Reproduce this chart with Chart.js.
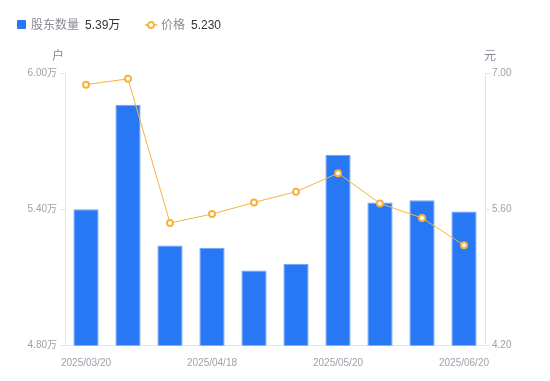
<!DOCTYPE html>
<html>
<head>
<meta charset="utf-8">
<script src="https://cdn.jsdelivr.net/npm/chart.js@4/dist/chart.umd.min.js"></script>
<style>
  html, body { margin: 0; padding: 0; background: #fff; }
  #wrap { position: relative; width: 550px; height: 381px; font-family: "Liberation Sans", "Noto Sans CJK SC", sans-serif; }
  #chart { position: absolute; left: 0; top: 0; }
  .legend { position: absolute; top: 17px; font-size: 12px; line-height: 16px; white-space: nowrap; }
  .lab { color: #8a8a96; }
  .val { color: #333; margin-left: 6px; }
  .sq { position: absolute; width: 9px; height: 9px; background: #2878F5; border-radius: 1px; }
</style>
</head>
<body>
<div id="wrap">
  <canvas id="chart" width="550" height="381"></canvas>
  <div class="legend" id="lg1" style="left:17px;"><span class="sq" style="left:0;top:3px;"></span><span style="margin-left:14px" class="lab" id="n1"></span><span class="val" id="v1"></span></div>
  <div class="legend" id="lg2" style="left:145px;"><svg width="12" height="10" style="position:absolute;left:0;top:3px"><line x1="0" y1="5" x2="12" y2="5" stroke="#F7B23B" stroke-width="1.5"/><circle cx="6" cy="5" r="3" fill="#fff" stroke="#F7B23B" stroke-width="1.8"/></svg><span style="margin-left:16px" class="lab" id="n2"></span><span class="val" id="v2"></span></div>
</div>
<script>
const categories = ["2025/03/20","2025/03/31","2025/04/10","2025/04/18","2025/04/30","2025/05/09","2025/05/20","2025/05/30","2025/06/10","2025/06/20"];
const holders = [5.40, 5.86, 5.24, 5.23, 5.13, 5.16, 5.64, 5.43, 5.44, 5.39]; // 万户
const prices = [6.88, 6.94, 5.46, 5.55, 5.67, 5.78, 5.97, 5.66, 5.51, 5.23];
const leftTicks = [4.80, 5.40, 6.00];
const rightTicks = [4.20, 5.60, 7.00];
const shownLabelIdx = [0, 3, 6, 9];
const seriesNames = ["股东数量", "价格"];
const unitLeft = "户", unitRight = "元";

document.getElementById('n1').textContent = seriesNames[0];
document.getElementById('v1').textContent = holders[holders.length-1].toFixed(2) + "万";
document.getElementById('n2').textContent = seriesNames[1];
document.getElementById('v2').textContent = prices[prices.length-1].toFixed(3);

const FONT = "'Liberation Sans', 'Noto Sans CJK SC', sans-serif";
const TICK_COLOR = "#a0a0ac";
const AXIS_COLOR = "#e3e3e8";

const unitPlugin = {
  id: 'units',
  afterDraw(chart) {
    const ctx = chart.ctx;
    ctx.save();
    ctx.font = "12px " + FONT;
    ctx.fillStyle = "#8a8a96";
    ctx.textAlign = "center";
    ctx.textBaseline = "middle";
    const a = chart.chartArea;
    ctx.fillText(unitLeft, a.left - 7, a.top - 16);
    ctx.fillText(unitRight, a.right + 5, a.top - 16);
    ctx.restore();
  }
};

new Chart(document.getElementById('chart'), {
  data: {
    labels: categories,
    datasets: [
      {
        type: 'line', label: seriesNames[1], data: prices, yAxisID: 'y1',
        borderColor: '#F7B23B', borderWidth: 1, backgroundColor: '#fff',
        pointRadius: 3, pointBorderWidth: 2, pointBorderColor: '#F7B23B', pointBackgroundColor: '#fff',
        tension: 0, order: 0
      },
      {
        type: 'bar', label: seriesNames[0], data: holders, yAxisID: 'y',
        backgroundColor: '#2878F5', borderColor: '#6ea3f8', borderWidth: 1,
        categoryPercentage: 1, barPercentage: 0.6, order: 1
      }
    ]
  },
  options: {
    responsive: false, animation: false,
    layout: { padding: { top: 73, left: 0, right: 0, bottom: 0 } },
    plugins: { legend: { display: false }, tooltip: { enabled: false } },
    scales: {
      x: {
        offset: true,
        grid: { display: false },
        border: { display: true, color: AXIS_COLOR },
        ticks: {
          autoSkip: false, maxRotation: 0, padding: 4,
          color: TICK_COLOR, font: { size: 10, family: FONT },
          callback: (v, i) => shownLabelIdx.includes(i) ? categories[i] : ''
        },
        afterFit: s => { s.height = 35.5; }
      },
      y: {
        position: 'left', min: leftTicks[0], max: leftTicks[leftTicks.length-1],
        afterBuildTicks: s => { s.ticks = leftTicks.map(v => ({ value: v })); },
        grid: { display: true, drawOnChartArea: false, drawTicks: true, tickLength: 5, color: AXIS_COLOR },
        border: { display: true, color: AXIS_COLOR },
        ticks: { padding: 3, color: TICK_COLOR, font: { size: 10, family: FONT }, callback: v => v.toFixed(2) + '万' },
        afterFit: s => { s.width = 65; }
      },
      y1: {
        position: 'right', min: rightTicks[0], max: rightTicks[rightTicks.length-1],
        afterBuildTicks: s => { s.ticks = rightTicks.map(v => ({ value: v })); },
        grid: { display: true, drawOnChartArea: false, drawTicks: true, tickLength: 5, color: AXIS_COLOR },
        border: { display: true, color: AXIS_COLOR },
        ticks: { padding: 2, color: TICK_COLOR, font: { size: 10, family: FONT }, callback: v => v.toFixed(2) },
        afterFit: s => { s.width = 65; }
      }
    }
  },
  plugins: [unitPlugin]
});
</script>
</body>
</html>
